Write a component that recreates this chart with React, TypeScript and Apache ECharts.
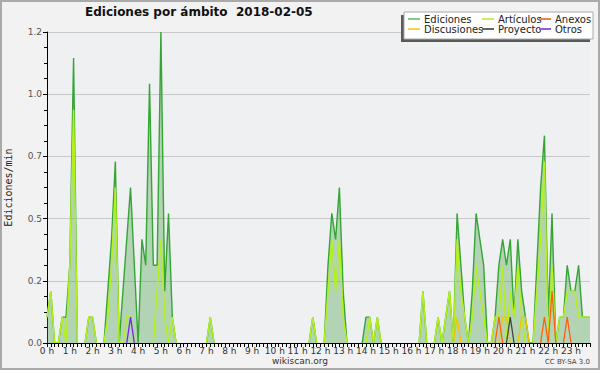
import React, { useEffect, useRef } from "react";
import * as echarts from "echarts";

// 10-minute slots, 144 per day; hour tick labels
const hourLabels = Array.from({ length: 24 }, (_, h) => `${h} h`);
const slots = Array.from({ length: 144 }, (_, i) =>
  i % 6 === 0 ? hourLabels[i / 6] : `${Math.floor(i / 6)}:${i % 6}0`
);
const yTicks = [0, 0.24, 0.48, 0.72, 0.96, 1.2];

// values in edits/min, one row per hour (6 x 10 min)
const ediciones = [
  0.1, 0.2, 0, 0, 0.1, 0.1,
  0.3, 1.1, 0, 0, 0, 0.1,
  0.1, 0, 0, 0, 0.2, 0.4,
  0.7, 0, 0.2, 0.4, 0.6, 0.3,
  0, 0.4, 0.3, 1.0, 0.3, 0.3,
  1.2, 0.2, 0.5, 0.1, 0, 0,
  0, 0, 0, 0, 0, 0,
  0, 0.1, 0, 0, 0, 0,
  0, 0, 0, 0, 0, 0,
  0, 0, 0, 0, 0, 0,
  0, 0, 0, 0, 0, 0,
  0, 0, 0, 0, 0.1, 0,
  0, 0, 0.3, 0.5, 0.4, 0.6,
  0.2, 0, 0, 0, 0, 0,
  0.1, 0.1, 0, 0.1, 0, 0,
  0, 0, 0, 0, 0, 0,
  0, 0, 0, 0.2, 0, 0,
  0, 0.1, 0, 0.1, 0.2, 0,
  0.5, 0.3, 0.1, 0, 0.2, 0.5,
  0.4, 0.3, 0, 0, 0.1, 0.3,
  0.4, 0.3, 0.4, 0.1, 0.4, 0.2,
  0.1, 0, 0, 0.3, 0.6, 0.8,
  0.1, 0.5, 0, 0.1, 0.1, 0.3,
  0.2, 0.2, 0.3, 0.1, 0.1, 0.1,
];
const articulos = [
  0.1, 0.2, 0, 0, 0.1, 0,
  0.3, 0.9, 0, 0, 0, 0.1,
  0.1, 0, 0, 0, 0.1, 0.3,
  0.6, 0, 0, 0.1, 0.1, 0,
  0, 0, 0, 0, 0, 0.2,
  0.4, 0.1, 0, 0.1, 0, 0,
  0, 0, 0, 0, 0, 0,
  0, 0.1, 0, 0, 0, 0,
  0, 0, 0, 0, 0, 0,
  0, 0, 0, 0, 0, 0,
  0, 0, 0, 0, 0, 0,
  0, 0, 0, 0, 0.1, 0,
  0, 0, 0.2, 0.4, 0.2, 0.4,
  0.1, 0, 0, 0, 0, 0,
  0, 0.1, 0, 0.1, 0, 0,
  0, 0, 0, 0, 0, 0,
  0, 0, 0, 0.2, 0, 0,
  0, 0.1, 0, 0.1, 0.2, 0,
  0.4, 0.2, 0.1, 0, 0.1, 0.3,
  0.2, 0.1, 0, 0, 0.1, 0.1,
  0.3, 0, 0.2, 0.1, 0.3, 0.1,
  0, 0, 0, 0.2, 0.4, 0.7,
  0, 0.3, 0, 0.1, 0.1, 0.2,
  0.2, 0.2, 0.1, 0.1, 0.1, 0.1,
];
// sparse namespaces: [slot index, value]
const discusionesPts: [number, number][] = [[108, 0.1], [120, 0.1], [121, 0.1], [125, 0.1], [126, 0.1]];
const proyectoPts: [number, number][] = [[122, 0.1]];
const anexosPts: [number, number][] = [[119, 0.1], [131, 0.1], [133, 0.2], [137, 0.1]];
const otrosPts: [number, number][] = [[22, 0.1]];

const fromPts = (pts: [number, number][]) => {
  const a = new Array(144).fill(0);
  pts.forEach(([i, v]) => (a[i] = v));
  return a;
};
// hide long zero runs so they don't paint over the baseline
const sparse = (arr: number[]) =>
  arr.map((v, i) => (v !== 0 || (arr[i - 1] ?? 0) > 0 || (arr[i + 1] ?? 0) > 0 ? v : null));

const FONT = "DejaVu Sans";

export default function App() {
  const ref = useRef<HTMLDivElement>(null);
  useEffect(() => {
    if (!ref.current) return;
    const chart = echarts.init(ref.current, undefined, { renderer: "svg" });
    const mk = (name: string, data: number[], line: string, legendColor: string, width = 1.3, extra: any = {}) => ({
      name,
      type: "line",
      data: sparse(data),
      showSymbol: false,
      symbol: "none",
      itemStyle: { color: legendColor },
      lineStyle: { color: line, width },
      emphasis: { disabled: true },
      ...extra,
    });
    const legendBase = {
      orient: "vertical",
      top: 14,
      padding: 0,
      itemGap: 0,
      itemWidth: 12,
      itemHeight: 2,
      icon: "rect",
      z: 6,
      textStyle: { fontSize: 10, color: "#222", fontFamily: FONT, lineHeight: 10, padding: [0, 0, 0, -1] },
    };
    chart.setOption({
      animation: false,
      backgroundColor: "#f2f2f2",
      textStyle: { fontFamily: FONT },
      title: {
        text: "Ediciones por ámbito  2018-02-05",
        left: 85,
        top: 6,
        padding: 0,
        textStyle: { fontSize: 12, fontWeight: "bold", color: "#111", fontFamily: FONT },
      },
      grid: {
        left: 47, right: 10, top: 32, bottom: 27,
        outerBoundsMode: "none", containLabel: false,
        show: true, backgroundColor: "#eef0f2", borderWidth: 0,
      },
      legend: [
        { ...legendBase, left: 408, data: ["Ediciones", "Discusiones"] },
        { ...legendBase, left: 482, data: ["Artículos", "Proyecto"] },
        { ...legendBase, left: 539, data: ["Anexos", "Otros"] },
      ],
      xAxis: {
        type: "category",
        data: slots,
        boundaryGap: false,
        z: 10,
        axisLine: { lineStyle: { color: "#000", width: 1 } },
        axisTick: { show: true, interval: 0, length: 4, lineStyle: { color: "#000" } },
        axisLabel: { interval: 5, fontSize: 9, color: "#333", margin: 3, fontFamily: FONT },
        splitLine: { show: false },
      },
      yAxis: {
        type: "value",
        min: yTicks[0],
        max: yTicks[yTicks.length - 1],
        interval: yTicks[1],
        name: "Ediciones/min",
        nameLocation: "middle",
        nameGap: 34,
        nameTextStyle: { fontSize: 10, color: "#222", fontFamily: "DejaVu Sans Mono" },
        axisLine: { show: true, lineStyle: { color: "#000" } },
        axisTick: { show: true, length: 4, lineStyle: { color: "#000" } },
        minorTick: { show: true, splitNumber: 4, length: 3, lineStyle: { color: "#000" } },
        axisLabel: { formatter: (v: number) => v.toFixed(1), fontSize: 9, color: "#555", margin: 5, fontFamily: FONT },
        splitLine: { lineStyle: { color: "#c8c8c8" } },
      },
      series: [
        mk("Ediciones", ediciones, "#35a535", "#88cc88", 1.4, {
          areaStyle: { color: "rgba(60,155,60,0.48)", origin: "start" },
        }),
        mk("Artículos", articulos, "#b4f01e", "#ccee55", 1.5),
        mk("Discusiones", fromPts(discusionesPts), "#f5c400", "#ffd050", 1.3),
        mk("Proyecto", fromPts(proyectoPts), "#444444", "#666666", 1.3),
        mk("Anexos", fromPts(anexosPts), "#ff6010", "#f08050", 1.3),
        mk("Otros", fromPts(otrosPts), "#7a22ee", "#9955ee", 1.3),
      ],
      graphic: [
        { type: "rect", z: 3, shape: { x: 401, y: 15, width: 189, height: 27 }, style: { fill: "#5a5a5a" } },
        { type: "rect", z: 4, shape: { x: 404, y: 12, width: 189, height: 27 }, style: { fill: "#ffffff", stroke: "#aaaaaa", lineWidth: 1 } },
        {
          type: "text",
          z: 5,
          style: { text: "wikiscan.org", x: 300, y: 361, align: "center", verticalAlign: "middle", fontSize: 9, fill: "#333", fontFamily: FONT },
        },
        {
          type: "text",
          z: 5,
          style: { text: "CC BY-SA 3.0", x: 590, y: 362, align: "right", verticalAlign: "middle", fontSize: 7, fill: "#444", fontFamily: FONT },
        },
        { type: "rect", z: 20, shape: { x: 1, y: 1, width: 598, height: 368 }, style: { fill: "none", stroke: "#aaaaaa", lineWidth: 2 } },
      ],
    });
    return () => chart.dispose();
  }, []);
  return <div ref={ref} style={{ position: "fixed", left: 0, top: 0, width: 600, height: 370 }} />;
}
